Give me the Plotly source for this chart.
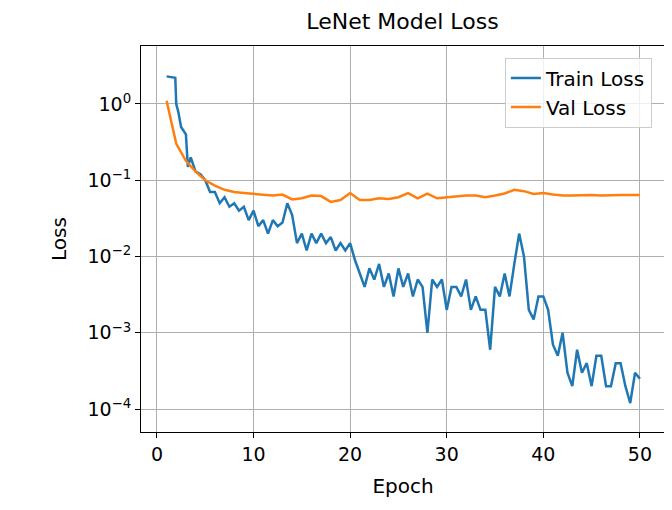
import plotly.graph_objects as go

val_epoch = list(range(1, 51))
val_loss = [1.1, 0.3, 0.18, 0.13, 0.1, 0.085, 0.075, 0.07, 0.068, 0.066,
            0.065, 0.063, 0.065, 0.056, 0.058, 0.063, 0.062, 0.052, 0.055, 0.068,
            0.055, 0.055, 0.058, 0.057, 0.06, 0.068, 0.058, 0.067, 0.058, 0.06,
            0.062, 0.063, 0.063, 0.06, 0.063, 0.067, 0.075, 0.072, 0.066, 0.068,
            0.065, 0.063, 0.063, 0.064, 0.064, 0.063, 0.064, 0.064, 0.064, 0.064]

train_epoch = [1, 1.5, 1.9, 2.0, 2.2, 2.5, 3.0, 3.2, 3.5, 4.0, 4.5, 5.0, 5.5, 6.0, 6.5, 7.0,
               7.5, 8.0, 8.5, 9.0, 9.5, 10.0, 10.5, 11.0, 11.5, 12.0, 12.5, 13.0, 13.5,
               14.0, 14.5, 15.0, 15.5, 16.0, 16.5, 17.0, 17.5, 18.0, 18.5, 19.0, 19.5,
               20.0, 20.5, 21.0, 21.5, 22.0, 22.5, 23.0, 23.5, 24.0, 24.5, 25.0, 25.5,
               26.0, 26.5, 27.0, 27.5, 28.0, 28.5, 29.0, 29.5, 30.0, 30.5, 31.0, 31.5,
               32.0, 32.5, 33.0, 33.5, 34.0, 34.5, 35.0, 35.5, 36.0, 36.5, 37.0, 37.5,
               38.0, 38.5, 39.0, 39.5, 40.0, 40.5, 41.0, 41.5, 42.0, 42.5, 43.0, 43.5,
               44.0, 44.5, 45.0, 45.5, 46.0, 46.5, 47.0, 47.5, 48.0, 48.5, 49.0, 49.5, 50.0]
train_loss = [2.3, 2.25, 2.2, 1.0, 0.8, 0.5, 0.4, 0.15, 0.2, 0.13, 0.12, 0.1, 0.07, 0.07,
              0.05, 0.06, 0.045, 0.05, 0.04, 0.045, 0.03, 0.04, 0.025, 0.03, 0.02, 0.03,
              0.025, 0.028, 0.05, 0.035, 0.015, 0.02, 0.012, 0.02, 0.015, 0.02, 0.015,
              0.018, 0.012, 0.015, 0.012, 0.015, 0.009, 0.006, 0.004, 0.007, 0.005, 0.008,
              0.004, 0.006, 0.003, 0.007, 0.004, 0.006, 0.003, 0.005, 0.004, 0.001, 0.005,
              0.004, 0.005, 0.002, 0.004, 0.004, 0.003, 0.005, 0.002, 0.003, 0.002, 0.002,
              0.0006, 0.004, 0.003, 0.006, 0.003, 0.008, 0.02, 0.01, 0.002, 0.0015, 0.003,
              0.003, 0.002, 0.0007, 0.0005, 0.001, 0.0003, 0.0002, 0.0006, 0.0003, 0.0004,
              0.0002, 0.0005, 0.0005, 0.0002, 0.0002, 0.0004, 0.0004, 0.0002, 0.00012,
              0.0003, 0.00025]

fig = go.Figure()
fig.add_trace(go.Scatter(x=train_epoch, y=train_loss, mode="lines", name="Train Loss",
                         line=dict(color="#1f77b4", width=2.5)))
fig.add_trace(go.Scatter(x=val_epoch, y=val_loss, mode="lines", name="Val Loss",
                         line=dict(color="#ff7f0e", width=2.5)))

axis_common = dict(showline=True, linecolor="black", linewidth=1, mirror=True,
                   gridcolor="#b0b0b0", ticks="outside", tickcolor="black",
                   zeroline=False, tickfont=dict(size=19))
fig.update_layout(
    width=672, height=510,
    paper_bgcolor="white", plot_bgcolor="white",
    font=dict(family="DejaVu Sans", color="black"),
    margin=dict(l=133, r=15, t=38, b=86),
    title=dict(text="LeNet Model Loss", x=0.587, xanchor="center", y=0.99,
               yanchor="top", font=dict(size=22)),
    xaxis=dict(title=dict(text="Epoch", font=dict(size=20)), range=[-1.65, 52.6],
               tickvals=[0, 10, 20, 30, 40, 50], **axis_common),
    yaxis=dict(title=dict(text="Loss", font=dict(size=20)), type="log",
               range=[-4.3, 0.76], tickvals=[1e-4, 1e-3, 1e-2, 1e-1, 1],
               ticktext=["10<sup>−4</sup>", "10<sup>−3</sup>", "10<sup>−2</sup>",
                         "10<sup>−1</sup>", "10<sup>0</sup>"], **axis_common),
    legend=dict(x=0.975, y=0.97, xanchor="right", yanchor="top",
                bordercolor="#cccccc", borderwidth=1, bgcolor="rgba(255,255,255,0.8)",
                font=dict(size=20)),
)
fig.write_html("out.html")
